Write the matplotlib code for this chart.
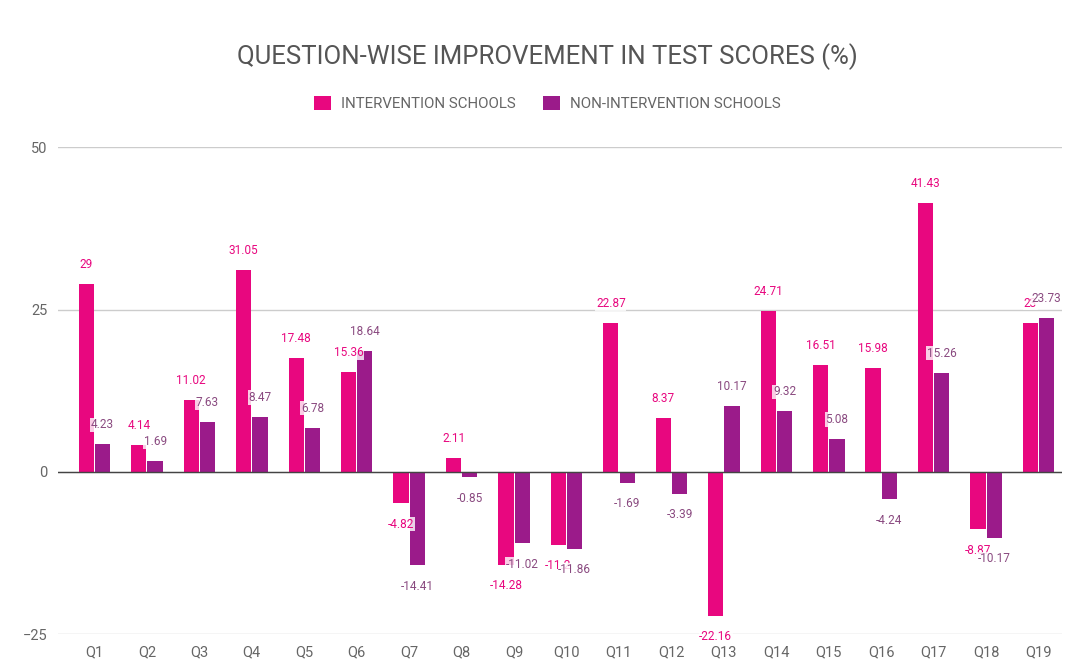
import matplotlib.pyplot as plt
import numpy as np

plt.rcParams['font.family'] = ['Roboto', 'DejaVu Sans']

#Data
questions = ['Q%d' % i for i in range(1, 20)]
intervention = [29, 4.14, 11.02, 31.05, 17.48, 15.36, -4.82, 2.11, -14.28, -11.2,
                22.87, 8.37, -22.16, 24.71, 16.51, 15.98, 41.43, -8.87, 23]
non_intervention = [4.23, 1.69, 7.63, 8.47, 6.78, 18.64, -14.41, -0.85, -11.02, -11.86,
                    -1.69, -3.39, 10.17, 9.32, 5.08, -4.24, 15.26, -10.17, 23.73]
int_labels = ['29', '4.14', '11.02', '31.05', '17.48', '15.36', '-4.82', '2.11', '-14.28', '-11.2',
              '22.87', '8.37', '-22.16', '24.71', '16.51', '15.98', '41.43', '-8.87', '23']
non_labels = ['4.23', '1.69', '7.63', '8.47', '6.78', '18.64', '-14.41', '-0.85', '-11.02', '-11.86',
              '-1.69', '-3.39', '10.17', '9.32', '5.08', '-4.24', '15.26', '-10.17', '23.73']
yticks = [-25, 0, 25, 50]

pink = '#e8077f'
purple = '#9b1b8a'
grey = '#666666'

#Figure
fig = plt.figure(figsize=(10.8, 6.69), dpi=100)
ax = fig.add_axes([0.054, 0.052, 0.929, 0.728])

x = np.arange(len(questions))
w = 0.29
b1 = ax.bar(x - 0.155, intervention, w, color=pink, zorder=3)
b2 = ax.bar(x + 0.155, non_intervention, w, color=purple, zorder=3)

#Value labels
for bars, labels, col in [(b1, int_labels, pink), (b2, non_labels, '#8a4a80')]:
    for bar, lab in zip(bars, labels):
        h = bar.get_height()
        xc = bar.get_x() + bar.get_width() / 2
        off = 14 if h >= 0 else -15
        ax.annotate(lab, (xc, h), xytext=(0, off), textcoords='offset points',
                    ha='center', va='center', fontsize=8.5, color=col, zorder=4,
                    bbox=dict(boxstyle='square,pad=0.05', fc='white', ec='none', alpha=0.8))

#Axes
ax.set_xlim(-0.69, 18.44)
ax.set_ylim(-25, 50)
ax.set_yticks(yticks)
ax.set_xticks(x)
ax.set_xticklabels(questions)
ax.tick_params(length=0, colors=grey, labelsize=10.5)
ax.tick_params(axis='y', pad=8)
ax.tick_params(axis='x', pad=8)
for s in ax.spines.values():
    s.set_visible(False)
ax.grid(axis='y', color='#cccccc', lw=1, zorder=0)
ax.axhline(0, color='#444444', lw=1, zorder=4)

#Title and legend
fig.text(0.507, 0.915, 'QUESTION-WISE IMPROVEMENT IN TEST SCORES (%)', ha='center', va='center',
         fontsize=18.5, color='#555555')
leg = fig.legend([b1, b2], ['INTERVENTION SCHOOLS', 'NON-INTERVENTION SCHOOLS'],
                 loc='center', bbox_to_anchor=(0.507, 0.845), ncol=2, frameon=False,
                 fontsize=10.8, handlelength=1.1, handleheight=1.1, columnspacing=1.8,
                 handletextpad=0.7)
for t in leg.get_texts():
    t.set_color(grey)

fig.savefig('out.png', dpi=100)
plt.close(fig)
